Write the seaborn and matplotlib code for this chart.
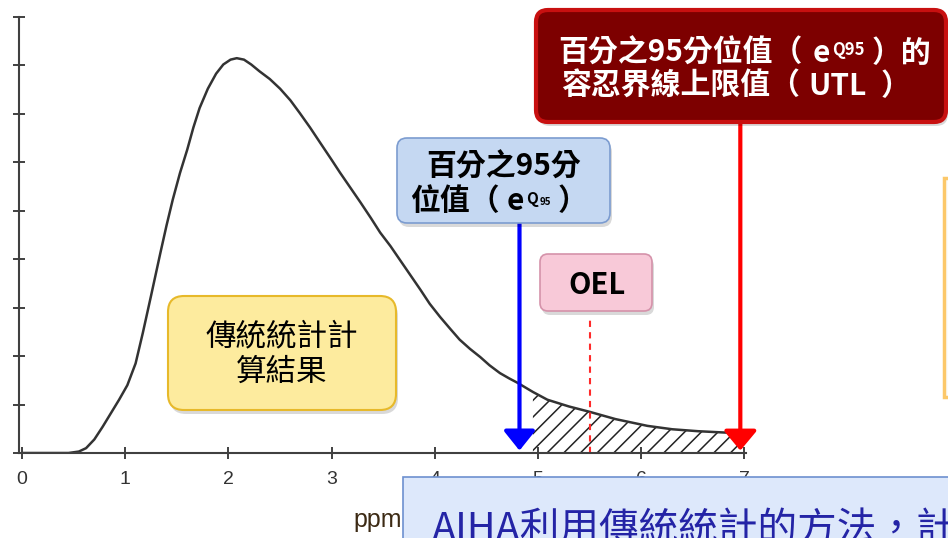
import matplotlib
matplotlib.use("Agg")
import matplotlib.pyplot as plt
import seaborn as sns
from matplotlib.patches import FancyBboxPatch, Rectangle
from matplotlib.transforms import IdentityTransform

# density curve (x in ppm, y in tick units)
curve_x = [0.0, 0.45, 0.55, 0.62, 0.70, 0.78, 0.86, 0.94, 1.02, 1.10, 1.17, 1.25,
           1.34, 1.40, 1.46, 1.53, 1.60, 1.66, 1.72, 1.80, 1.88, 1.95, 2.02, 2.08,
           2.15, 2.22, 2.30, 2.40, 2.50, 2.60, 2.69, 2.79, 2.89, 3.00, 3.08, 3.18,
           3.28, 3.38, 3.47, 3.57, 3.66, 3.76, 3.86, 3.95, 4.05, 4.15, 4.24, 4.34,
           4.44, 4.53, 4.63, 4.72, 4.80, 4.95, 5.09, 5.30, 5.50, 5.75, 6.06, 6.30,
           6.55, 6.83, 6.98]
curve_y = [0.0, 0.0, 0.03, 0.10, 0.28, 0.54, 0.82, 1.10, 1.40, 1.85, 2.48, 3.25,
           4.13, 4.70, 5.23, 5.78, 6.26, 6.72, 7.12, 7.52, 7.83, 8.02, 8.12, 8.15,
           8.12, 8.02, 7.88, 7.72, 7.52, 7.28, 7.02, 6.72, 6.40, 6.05, 5.79, 5.48,
           5.17, 4.85, 4.55, 4.27, 3.99, 3.68, 3.37, 3.08, 2.81, 2.56, 2.34, 2.15,
           1.98, 1.81, 1.65, 1.54, 1.45, 1.26, 1.10, 0.96, 0.85, 0.70, 0.56, 0.49,
           0.45, 0.42, 0.38]
x_ticks = [0, 1, 2, 3, 4, 5, 6, 7]
y_ticks = [0, 1, 2, 3, 4, 5, 6, 7, 8, 9]

q95_x = 4.82       # 百分之95分位值
utl_x = 6.96       # UTL
oel_x = 5.50       # OEL
oel_top = 2.8
q95_arrow_top = 4.75
utl_arrow_top = 6.84

W, H = 948, 538
sns.set_style("white")
plt.rcParams["font.family"] = ["Noto Sans CJK TC", "DejaVu Sans"]
plt.rcParams["hatch.linewidth"] = 1.1

fig = plt.figure(figsize=(W / 100, H / 100), dpi=100)
ax = fig.add_axes([19 / W, (H - 453) / H, 727 / W, 436 / H])

sns.lineplot(x=curve_x, y=curve_y, ax=ax, color="#333333", lw=1.8)

# shaded tail beyond the 95th percentile
tail = [(x, y) for x, y in zip(curve_x, curve_y) if x >= q95_x - 0.02]
ax.fill_between([p[0] for p in tail], 0, [p[1] for p in tail], facecolor="none",
                edgecolor="#222222", hatch="//", linewidth=0)

ax.set_xlim(-0.03, 7.015)
ax.set_ylim(0, 9)
ax.set_xticks(x_ticks)
ax.set_yticks(y_ticks)
ax.set_yticklabels([])
ax.tick_params(left=True, bottom=True, direction="inout", length=8, width=1.4,
               colors="#404040", labelsize=14, pad=9)
for lab in ax.get_xticklabels():
    lab.set_family("Liberation Sans")
    lab.set_color("#333333")
sns.despine(ax=ax)
for s in ("left", "bottom"):
    ax.spines[s].set_color("#404040")
    ax.spines[s].set_linewidth(1.5)

# OEL dashed line
ax.plot([oel_x, oel_x], [0, oel_top], color="#ff2a2a", lw=1.5, ls=(0, (3, 2.5)))

# arrows
ax.annotate("", xy=(q95_x, 0.05), xytext=(q95_x, q95_arrow_top),
            arrowprops=dict(arrowstyle="-|>,head_length=0.6,head_width=0.48",
                            color="#0000ff", lw=3, shrinkA=0, shrinkB=0,
                            mutation_scale=20), zorder=5)
ax.annotate("", xy=(utl_x, 0.05), xytext=(utl_x, utl_arrow_top),
            arrowprops=dict(arrowstyle="-|>,head_length=0.6,head_width=0.5",
                            color="#ff0000", lw=3, shrinkA=0, shrinkB=0,
                            mutation_scale=20), zorder=5)

ID = IdentityTransform()


def box(x0, y0, x1, y1, face, edge, lw, r, shadow=True):
    # pixel coords measured from the top left of the picture
    style = "round,pad=0,rounding_size=%d" % r if r else "square,pad=0"
    if shadow:
        fig.patches.append(FancyBboxPatch((x0 + 2, H - y1 - 4), x1 - x0, y1 - y0,
                                          boxstyle=style, facecolor="black",
                                          alpha=0.15, lw=0, transform=ID, zorder=8))
    fig.patches.append(FancyBboxPatch((x0, H - y1), x1 - x0, y1 - y0, boxstyle=style,
                                      facecolor=face, edgecolor=edge, lw=lw,
                                      transform=ID, zorder=9))


def rich_line(cx, base, parts, color):
    r = fig.canvas.get_renderer()
    made = []
    total = 0
    for s, size, weight, rise, gap in parts:
        t = fig.text(0, 0, s, fontsize=size, fontweight=weight, color=color,
                     ha="left", va="baseline", transform=ID, zorder=12)
        w = t.get_window_extent(r).width
        made.append((t, rise, gap, w))
        total += gap + w
    x = cx - total / 2
    for t, rise, gap, w in made:
        x += gap
        t.set_position((x, H - base + rise))
        x += w


fig.text(353, H - 527, "ppm", fontsize=18, color="#3c2a14",
         family="Liberation Sans", transform=ID, zorder=7)

# boxes
box(536, 10, 946, 122, "#7d0000", "#c81010", 3, 12)
rich_line(745, 62, [("百分之95分位值（", 21.5, "bold", 0, 0), ("e", 21.5, "bold", 0, 10),
                    ("Q95", 12, "bold", 7, 2), ("）的", 21.5, "bold", 0, 7)], "white")
rich_line(736, 95, [("容忍界線上限值（", 21.5, "bold", 0, 0), ("UTL", 21.5, "bold", 0, 8),
                    ("）", 21.5, "bold", 0, 14)], "white")

box(397, 138, 610, 223, "#c5d8f2", "#7c9cd0", 1.2, 10)
rich_line(504, 176, [("百分之95分", 21.5, "bold", 0, 0)], "black")
rich_line(499, 210, [("位值（", 21.5, "bold", 0, 0), ("e", 21.5, "bold", 0, 7),
                     ("Q", 11, "bold", 6, 2), ("95", 7, "bold", 5, 1),
                     ("）", 21.5, "bold", 0, 7)], "black")

box(540, 254, 652, 311, "#f8c9d8", "#d592aa", 1.2, 8)
rich_line(597, 294, [("OEL", 21, "bold", 0, 0)], "black")

box(168, 296, 396, 410, "#fdeb9e", "#e7b92a", 1.5, 16)
rich_line(282, 345, [("傳統統計計", 22, "medium", 0, 0)], "black")
rich_line(282, 381, [("算結果", 22, "medium", 0, 0)], "black")

fig.patches.append(Rectangle((944, H - 397), 30, 219, facecolor="#fbfbfb",
                             edgecolor="#fcc86a", lw=2.5, transform=ID, zorder=9))

box(403, 477, 960, 560, "#dde8fb", "#6d90cf", 1.2, 0, shadow=False)
fig.text(432, H - 541, "AIHA利用傳統統計的方法，計算", fontsize=28.5, color="#2424a6",
         ha="left", va="baseline", transform=ID, zorder=12)

fig.savefig("out.png", dpi=100)
